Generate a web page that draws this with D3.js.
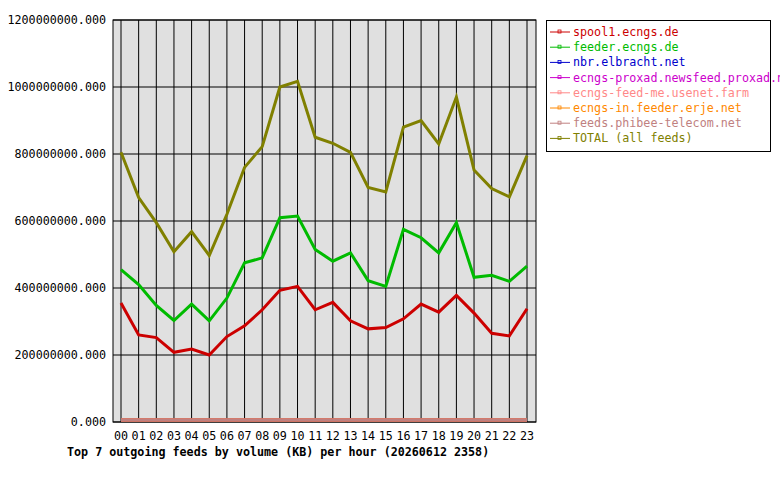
<!DOCTYPE html><html><head><script src="https://cdn.jsdelivr.net/npm/d3@7"></script>
<style>body{margin:0;background:#fff}text{font-family:"DejaVu Sans Mono",monospace;font-size:11.7px}</style></head><body>
<svg id="c" width="780" height="480"></svg>
<script>
const hours=["00","01","02","03","04","05","06","07","08","09","10","11","12","13","14","15","16","17","18","19","20","21","22","23"];
const names=["spool1.ecngs.de","feeder.ecngs.de","nbr.elbracht.net","ecngs-proxad.newsfeed.proxad.net","ecngs-feed-me.usenet.farm","ecngs-in.feeder.erje.net","feeds.phibee-telecom.net","TOTAL (all feeds)"];
const colors=["#cc0000","#00bb00","#0000cc","#cc00cc","#ff8888","#ff8800","#c08080","#808000"];
const spool1=[355,260,252,208,218,200,255,287,335,393,405,335,357,302,278,282,308,352,328,378,325,265,257,338];
const feeder=[455,410,348,303,352,302,370,475,490,610,615,515,480,505,422,405,575,550,505,595,432,438,420,465];
const zeros=hours.map(()=>0);
const total=[805,670,595,508,568,497,620,760,822,1000,1017,850,832,805,700,687,880,900,830,970,752,697,672,795];
const yTicks=[0,200,400,600,800,1000,1200];
const series=[spool1,feeder,zeros,zeros,zeros,zeros,zeros,total];
const svg=d3.select("#c");
const L=113,R=536,T=20,B=422;
const x=d3.scalePoint().domain(hours).range([121,527]);
const y=d3.scaleLinear().domain([0,1200]).range([B,T]);
svg.append("rect").attr("x",L).attr("y",T).attr("width",R-L).attr("height",B-T).attr("fill","#e0e0e0").attr("stroke","#000");
hours.forEach(h=>svg.append("line").attr("x1",x(h)).attr("x2",x(h)).attr("y1",T).attr("y2",B).attr("stroke","#000"));
yTicks.forEach(v=>{svg.append("line").attr("x1",L).attr("x2",R).attr("y1",y(v)).attr("y2",y(v)).attr("stroke","#000");
svg.append("text").attr("x",L-7).attr("y",y(v)+4).attr("text-anchor","end").text(v===0?"0.000":(v*1e6)+".000");});
hours.forEach(h=>svg.append("text").attr("x",x(h)).attr("y",440).attr("text-anchor","middle").text(h));
const line=d3.line().x((d,i)=>x(hours[i])).y(d=>y(d));
[2,3,4,5,6,0,1,7].forEach(k=>svg.append("path").attr("d",line(series[k])).attr("fill","none").attr("stroke",colors[k]).attr("stroke-width",3).attr("transform",series[k]===zeros?"translate(0,-2)":null));
svg.append("text").attr("x",67).attr("y",456).attr("font-weight","bold").text("Top 7 outgoing feeds by volume (KB) per hour (20260612 2358)");
svg.append("rect").attr("x",546.5).attr("y",20.5).attr("width",224).attr("height",131).attr("fill","#fff").attr("stroke","#000");
names.forEach((n,i)=>{const yy=36+i*15.2;
svg.append("line").attr("x1",550).attr("x2",570).attr("y1",yy-4).attr("y2",yy-4).attr("stroke",colors[i]);
svg.append("rect").attr("x",558).attr("y",yy-6).attr("width",3).attr("height",3).attr("fill","none").attr("stroke",colors[i]).attr("stroke-width",0.8);
svg.append("text").attr("x",573).attr("y",yy).attr("fill",colors[i]).text(n);});
</script></body></html>
